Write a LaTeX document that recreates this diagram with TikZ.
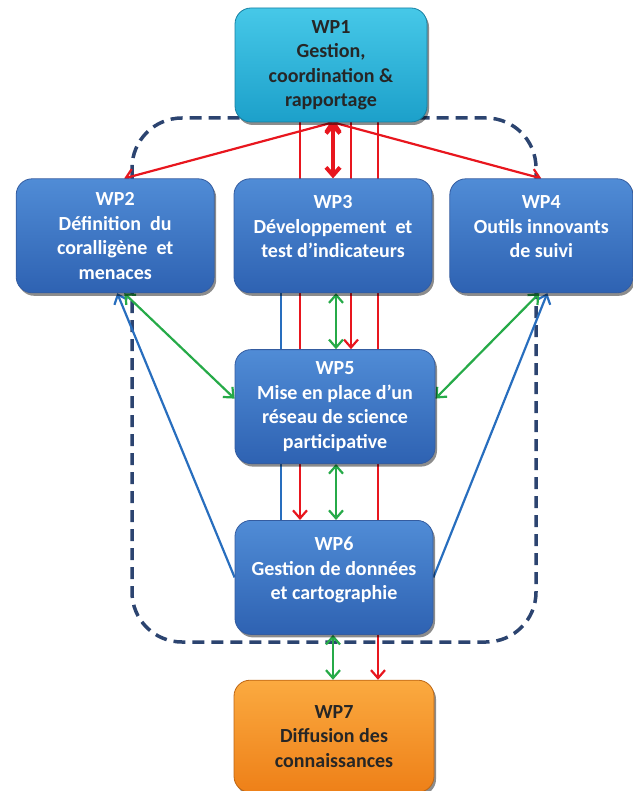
\documentclass[tikz,border=0pt]{standalone}
\usepackage{fontspec}
\setmainfont{Carlito}
\usepackage{xcolor}
\usetikzlibrary{arrows.meta,positioning,shadows,backgrounds}
\definecolor{boxtop}{RGB}{80,140,214}
\definecolor{boxbot}{RGB}{46,98,178}
\definecolor{boxline}{RGB}{52,92,160}
\definecolor{cyantop}{RGB}{70,200,232}
\definecolor{cyanbot}{RGB}{28,160,202}
\definecolor{orgtop}{RGB}{251,170,64}
\definecolor{orgbot}{RGB}{238,128,24}
\definecolor{arrred}{RGB}{232,22,30}
\definecolor{arrgreen}{RGB}{38,170,72}
\definecolor{arrblue}{RGB}{40,110,190}
\definecolor{frameblue}{RGB}{44,68,112}
\newcommand{\padline}{\\[-6.5pt]\mbox{}}
\tikzset{
  wpbox/.style={
    draw=boxline,
    line width=0.8pt,
    rounded corners=16pt,
    top color=boxtop,
    bottom color=boxbot,
    text=white,
    align=center,
    inner sep=4pt,
    minimum height=114pt,
    font=\fontsize{20}{24.5}\selectfont\bfseries,
    drop shadow={shadow xshift=2pt, shadow yshift=-3pt, opacity=0.45, fill=black}
  },
  coordbox/.style={wpbox, draw=cyanbot!80!black, top color=cyantop, bottom color=cyanbot, text=black!85},
  diffbox/.style={wpbox, draw=orgbot!80!black, top color=orgtop, bottom color=orgbot, text=black!85},
  groupframe/.style={draw=frameblue, line width=3.5pt, dash pattern=on 12pt off 7pt, rounded corners=50pt},
  conn/.style={line width=2.2pt},
  redflow/.style={conn, draw=arrred},
  greenflow/.style={conn, draw=arrgreen},
  blueflow/.style={conn, draw=arrblue},
  >={Straight Barb[length=8pt,width=14pt]}
}

\begin{document}
\begin{tikzpicture}[x=1pt, y=-1pt, node distance=56pt and 18pt]
\useasboundingbox (0,0) rectangle (632,791);

\node[coordbox, minimum width=192pt] (wp1) at (331,65) {WP1\\Gestion,\\coordination \&\\rapportage};
\node[wpbox, below=of wp1, xshift=2pt, minimum width=198pt] (wp3) {WP3\\Développement\ \ et\\test d’indicateurs\padline};
\node[wpbox, left=19pt of wp3, minimum width=198pt] (wp2) {WP2\\Définition\ \ du\\coralligène\ \ et\\menaces};
\node[wpbox, right=17pt of wp3, minimum width=183pt] (wp4) {WP4\\Outils innovants\\de suivi\padline};
\node[wpbox, below=of wp3, xshift=2pt, minimum width=200pt] (wp5) {WP5\\Mise en place d’un\\réseau de science\\participative};
\node[wpbox, below=of wp5, xshift=-1pt, minimum width=198pt] (wp6) {WP6\\Gestion de données\\et cartographie\padline};
\node[diffbox, below=45pt of wp6, minimum width=200pt, minimum height=112pt] (wp7) {WP7\\Diffusion des\\connaissances};

\begin{pgfonlayer}{background}
% dashed frame round WP2--WP6
\draw[groupframe] (132,118) rectangle (536,642);

% red links from WP1
\draw[redflow, <->] ([xshift=2pt]wp1.south) -- ([xshift=9pt]wp2.north);
\draw[redflow, <->] ([xshift=2pt]wp1.south) -- (wp4.north);
\draw[redflow, <->, line width=4pt] ([xshift=2pt]wp1.south) -- ([xshift=2pt]wp1.south |- wp3.north);
\draw[redflow, ->] ([xshift=-31pt]wp1.south) -- ([xshift=-31pt]wp1.south |- wp6.north);
\draw[redflow, ->] ([xshift=20pt]wp1.south) -- ([xshift=20pt]wp1.south |- wp5.north);
\draw[redflow, ->] ([xshift=47pt]wp1.south) -- ([xshift=47pt]wp1.south |- wp7.north);

% blue links
\draw[blueflow] ([xshift=-52pt]wp3.south) -- ([xshift=-52pt]wp3.south |- wp6.north);
\draw[blueflow, ->] (wp6.west) -- ([xshift=2pt]wp2.south);
\draw[blueflow, ->] (wp6.east) -- ([xshift=6pt]wp4.south);

% green links
\draw[greenflow, <->] ([xshift=3pt]wp3.south) -- ([xshift=3pt]wp3.south |- wp5.north);
\draw[greenflow, <->] ([xshift=1pt]wp5.south) -- ([xshift=1pt]wp5.south |- wp6.north);
\draw[greenflow, <->] ([xshift=-1pt]wp6.south) -- ([xshift=-1pt]wp6.south |- wp7.north);
\draw[greenflow, <->] ([xshift=9pt]wp2.south) -- ([yshift=8pt]wp5.west);
\draw[greenflow, <->] ([xshift=-2pt]wp4.south) -- ([yshift=8pt]wp5.east);
\end{pgfonlayer}
\end{tikzpicture}
\end{document}
